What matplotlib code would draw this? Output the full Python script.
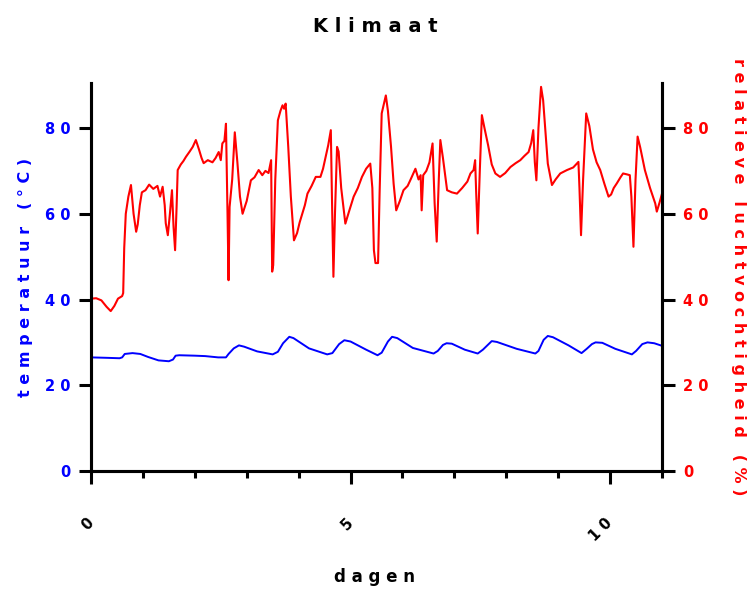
import matplotlib
matplotlib.use("Agg")
import matplotlib.pyplot as plt
from matplotlib.ticker import FixedLocator

plt.rcParams['font.family'] = ['DejaVu Sans']
plt.rcParams['font.weight'] = 'bold'

# temperatuur (°C) over de dagen
temp_dagen = [0.00, 0.30, 0.55, 0.60, 0.65, 0.80, 0.95, 1.10, 1.30, 1.50, 1.58, 1.63,
              1.70, 2.00, 2.20, 2.45, 2.60, 2.65, 2.75, 2.85, 2.95, 3.20, 3.50, 3.60,
              3.70, 3.82, 3.90, 4.20, 4.55, 4.65, 4.78, 4.88, 5.00, 5.30, 5.52, 5.60,
              5.72, 5.80, 5.90, 6.20, 6.60, 6.68, 6.78, 6.85, 6.95, 7.20, 7.45, 7.55,
              7.72, 7.82, 8.20, 8.56, 8.62, 8.72, 8.80, 8.90, 9.20, 9.45, 9.55, 9.65,
              9.72, 9.85, 10.10, 10.42, 10.50, 10.62, 10.72, 10.85, 11.00]
temp = [26.5, 26.4, 26.3, 26.5, 27.3, 27.5, 27.3, 26.6, 25.8, 25.6, 26.0, 26.9,
        27.0, 26.9, 26.8, 26.5, 26.5, 27.3, 28.6, 29.3, 29.0, 27.9, 27.2, 27.8,
        29.8, 31.3, 31.0, 28.6, 27.2, 27.5, 29.6, 30.5, 30.2, 28.3, 27.0, 27.6,
        30.2, 31.3, 31.0, 28.7, 27.4, 28.0, 29.4, 29.8, 29.7, 28.3, 27.4, 28.3,
        30.3, 30.1, 28.5, 27.4, 28.0, 30.6, 31.5, 31.2, 29.3, 27.5, 28.5, 29.6,
        30.0, 29.9, 28.5, 27.2, 28.0, 29.6, 30.0, 29.8, 29.2]

# relatieve luchtvochtigheid (%)
rv_dagen = [0.00, 0.10, 0.20, 0.30, 0.38, 0.45, 0.52, 0.60, 0.62, 0.64, 0.67, 0.72,
            0.77, 0.82, 0.87, 0.90, 0.94, 0.98, 1.05, 1.12, 1.20, 1.28, 1.33, 1.38,
            1.42, 1.44, 1.48, 1.52, 1.56, 1.59, 1.62, 1.65, 1.67, 1.73, 1.78, 1.83,
            1.90, 1.96, 2.02, 2.08, 2.13, 2.17, 2.25, 2.34, 2.40, 2.46, 2.50, 2.53,
            2.57, 2.60, 2.63, 2.65, 2.67, 2.72, 2.77, 2.82, 2.87, 2.92, 3.00, 3.08,
            3.15, 3.23, 3.30, 3.36, 3.42, 3.47, 3.49, 3.51, 3.55, 3.60, 3.65, 3.69,
            3.72, 3.75, 3.80, 3.85, 3.91, 3.97, 4.02, 4.07, 4.12, 4.17, 4.25, 4.33,
            4.42, 4.47, 4.52, 4.57, 4.62, 4.64, 4.67, 4.70, 4.74, 4.77, 4.82, 4.90,
            4.97, 5.06, 5.14, 5.22, 5.30, 5.38, 5.42, 5.45, 5.48, 5.53, 5.56, 5.60,
            5.68, 5.72, 5.78, 5.83, 5.88, 5.95, 6.02, 6.10, 6.15, 6.25, 6.31, 6.35,
            6.37, 6.40, 6.46, 6.52, 6.58, 6.62, 6.66, 6.70, 6.73, 6.78, 6.86, 6.95,
            7.05, 7.15, 7.25, 7.31, 7.37, 7.40, 7.42, 7.45, 7.49, 7.53, 7.58, 7.65,
            7.72, 7.79, 7.88, 7.98, 8.08, 8.18, 8.27, 8.35, 8.43, 8.48, 8.52, 8.55,
            8.58, 8.62, 8.67, 8.71, 8.75, 8.80, 8.88, 8.95, 9.04, 9.17, 9.29, 9.39,
            9.41, 9.44, 9.48, 9.54, 9.60, 9.67, 9.74, 9.81, 9.89, 9.97, 10.02, 10.07,
            10.13, 10.20, 10.25, 10.32, 10.38, 10.41, 10.45, 10.49, 10.53, 10.58, 10.67, 10.77,
            10.87, 10.90, 10.95, 11.00]
rv = [40.2, 40.3, 39.8, 38.3, 37.3, 38.5, 40.2, 40.8, 41.5, 52.0, 60.0, 64.0,
      66.7, 60.0, 55.8, 57.5, 62.0, 65.0, 65.5, 66.8, 65.8, 66.5, 64.0, 66.3,
      62.0, 57.8, 55.0, 60.0, 65.5, 57.0, 51.5, 62.0, 70.2, 71.5, 72.3, 73.3,
      74.5, 75.6, 77.2, 75.0, 73.0, 71.8, 72.5, 72.0, 73.0, 74.4, 72.5, 76.4,
      77.0, 81.0, 60.0, 44.5, 61.6, 68.0, 79.0, 72.0, 64.0, 60.0, 63.0, 67.8,
      68.5, 70.2, 69.0, 70.0, 69.5, 72.5, 46.5, 48.0, 68.0, 81.8, 84.0, 85.3,
      84.5, 85.7, 75.6, 64.0, 53.8, 55.5, 58.0, 60.0, 62.0, 64.7, 66.5, 68.6,
      68.6, 70.5, 73.3, 76.0, 79.5, 65.0, 45.3, 60.0, 75.6, 74.5, 66.0, 57.7,
      60.5, 64.0, 66.0, 68.6, 70.5, 71.7, 66.0, 51.5, 48.5, 48.5, 65.0, 83.4,
      87.6, 84.0, 75.6, 67.0, 60.8, 63.0, 65.5, 66.5, 67.8, 70.5, 68.0, 69.0,
      60.8, 69.0, 70.0, 72.0, 76.4, 62.4, 53.5, 68.0, 77.2, 73.0, 65.5, 65.0,
      64.7, 66.0, 67.5, 69.4, 70.2, 72.5, 65.0, 55.4, 70.0, 83.0, 80.0, 76.0,
      71.5, 69.4, 68.6, 69.5, 70.9, 71.8, 72.5, 73.5, 74.4, 76.5, 79.5, 72.0,
      67.8, 80.0, 89.6, 86.5, 80.0, 71.7, 66.7, 68.0, 69.4, 70.2, 70.8, 72.1,
      66.0, 55.0, 68.0, 83.4, 80.5, 75.0, 72.0, 70.2, 67.0, 64.0, 64.5, 66.0,
      67.1, 68.5, 69.4, 69.2, 69.0, 64.0, 52.3, 68.0, 78.0, 75.5, 70.2, 66.0,
      62.4, 60.5, 62.5, 64.7]

x_ticks = [0, 5, 10]
x_minor = [1, 2, 3, 4, 6, 7, 8, 9, 11]
y_ticks = [0, 20, 40, 60, 80]


def spaced(s):
    # wijde letterafstand: spatie tussen letters, drie tussen woorden
    return '   '.join(' '.join(w) for w in s.split())


fig = plt.figure(figsize=(7.55, 5.9), dpi=100)
ax = fig.add_axes([91 / 755, 1 - 471 / 590, (662 - 91) / 755, (471 - 83) / 590])
ax2 = ax.twinx()

ax.plot(temp_dagen, temp, color='#0000ff', lw=1.4)
ax2.plot(rv_dagen, rv, color='#ff0000', lw=1.5)

ax.set_xlim(0, 11)
ax.set_ylim(0, 90.5)
ax2.set_ylim(0, 90.5)

for a in (ax, ax2):
    a.spines['top'].set_visible(False)
    for s in ('left', 'right', 'bottom'):
        a.spines[s].set_linewidth(2.2)
        a.spines[s].set_color('black')

ax.xaxis.set_major_locator(FixedLocator(x_ticks))
ax.xaxis.set_minor_locator(FixedLocator(x_minor))
ax.set_xticklabels([spaced(str(t)) for t in x_ticks], rotation=45, ha='right',
                   va='center', rotation_mode='anchor', fontsize=10.5, fontweight='bold')
ax.tick_params(axis='x', which='major', length=9, width=2.2, pad=27)
ax.tick_params(axis='x', which='minor', length=5, width=2.2)

ax.set_yticks(y_ticks)
ax.set_yticklabels([spaced(str(t)) for t in y_ticks], color='#0000ff',
                   fontsize=10.5, fontweight='bold')
ax.tick_params(axis='y', length=9, width=2.2, pad=6)

ax2.set_yticks(y_ticks)
ax2.set_yticklabels([spaced(str(t)) for t in y_ticks], color='#ff0000',
                    fontsize=10.5, fontweight='bold')
ax2.tick_params(axis='y', length=9, width=2.2, pad=6)

ax.set_ylabel(spaced('temperatuur (°C)'), color='#0000ff', fontsize=11.5,
              fontweight='bold', labelpad=8)
ax2.set_ylabel(spaced('relatieve luchtvochtigheid (%)'), color='#ff0000',
               fontsize=11.5, fontweight='bold', rotation=270, labelpad=27)

fig.text(375 / 755, 1 - 577 / 590, spaced('dagen'), ha='center', va='center',
         fontsize=12, fontweight='bold')
fig.text(375 / 755, 1 - 26 / 590, spaced('Klimaat'), ha='center', va='center',
         fontsize=14, fontweight='bold')

fig.savefig('out.png', dpi=100)
